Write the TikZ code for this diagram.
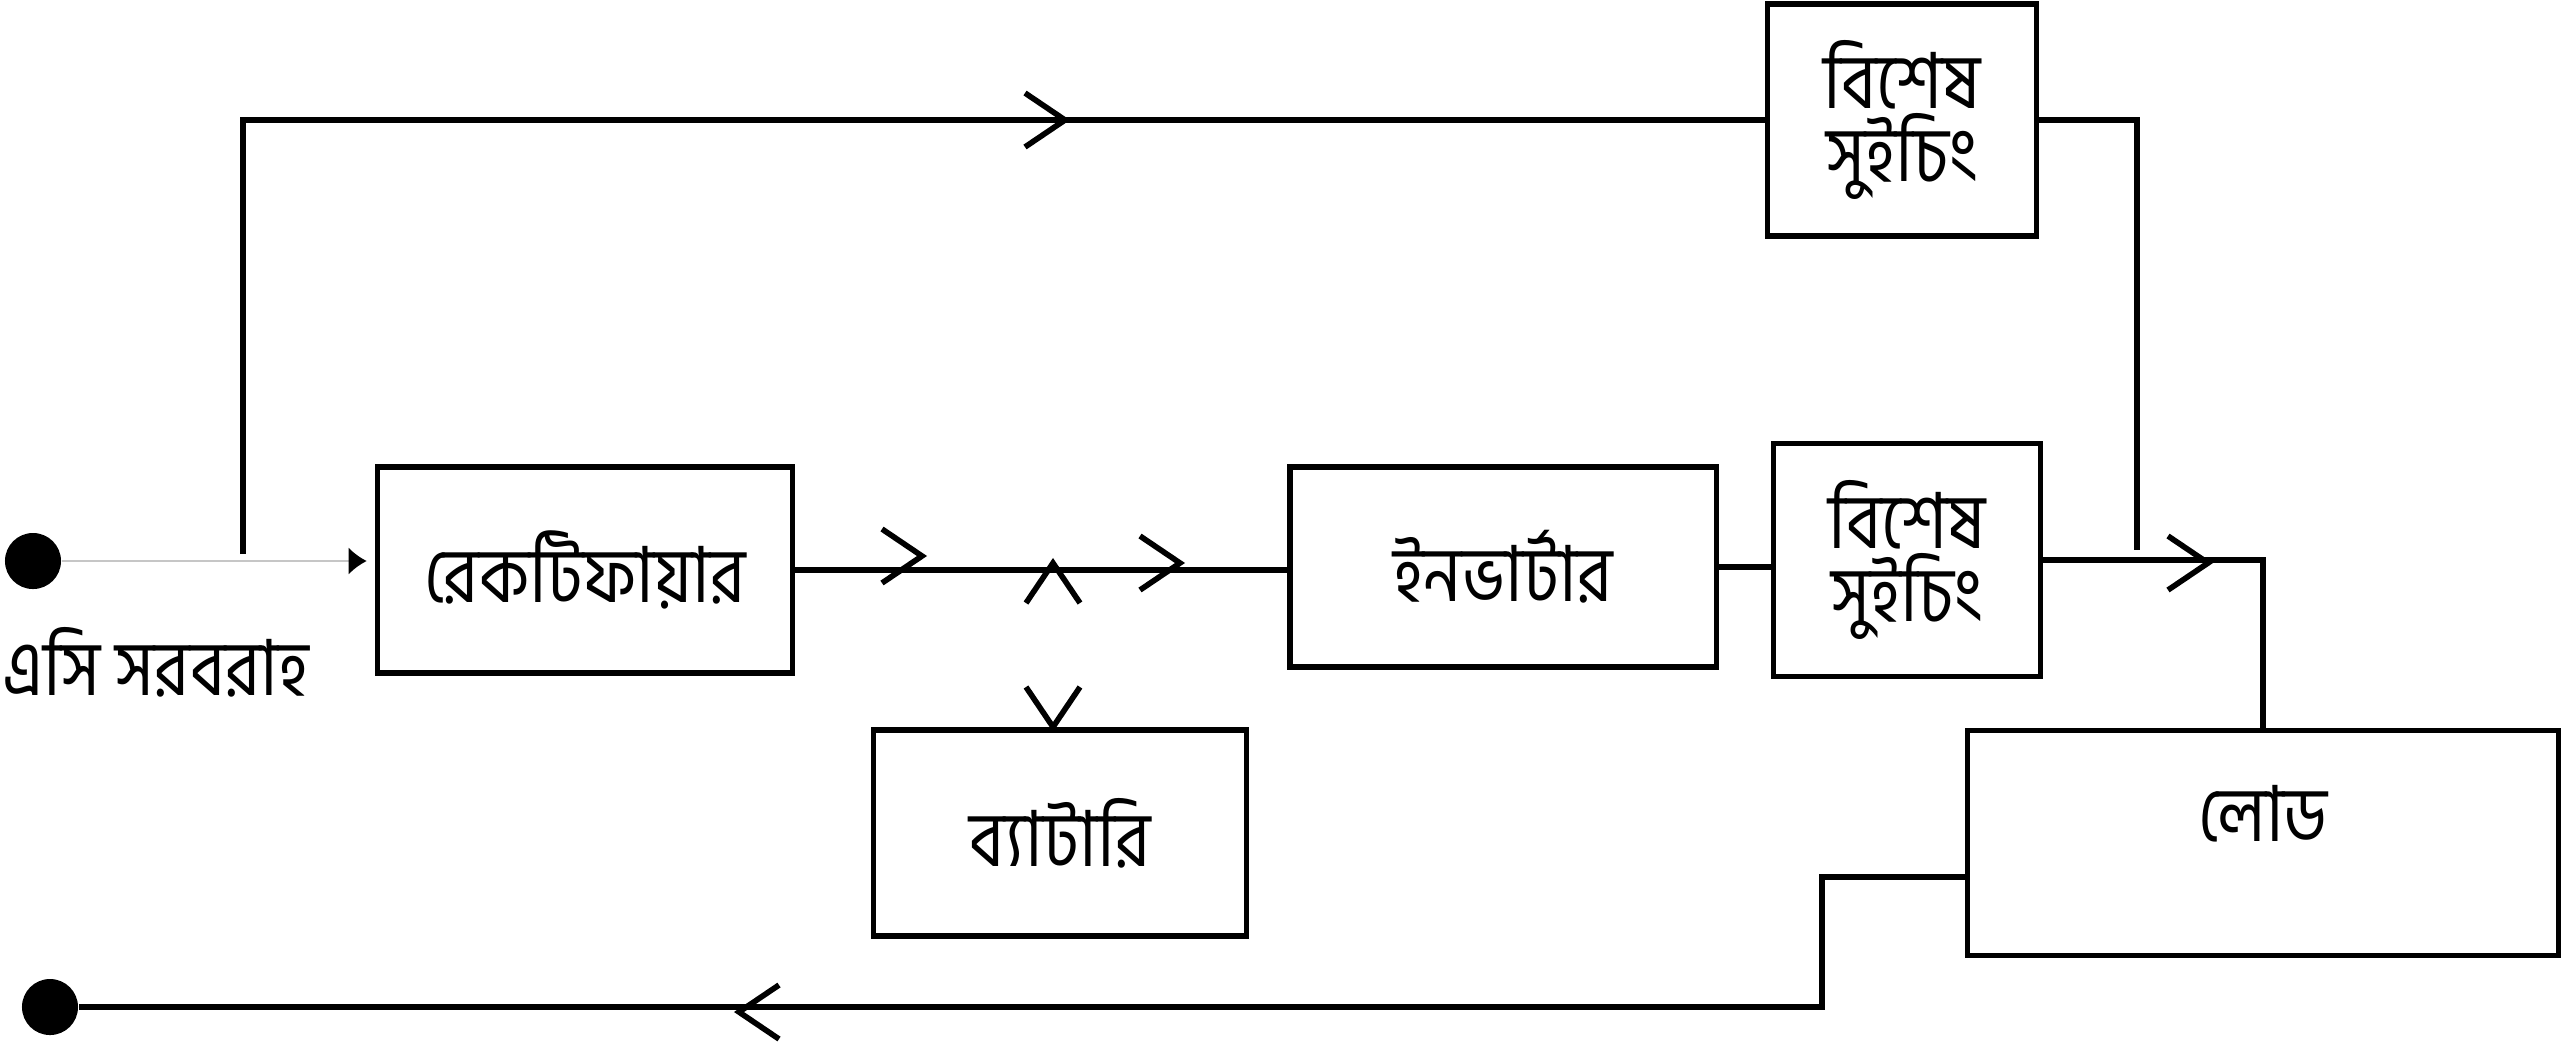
\documentclass[tikz,border=0pt]{standalone}
\usepackage{fontspec}
\newfontfamily\bnfont[Script=Bengali, FakeStretch=0.87]{Hind Siliguri}
\usetikzlibrary{arrows.meta}

\tikzset{
  block/.style    = {shape=rectangle, draw, line width=1.5pt, align=center,
                     inner sep=0pt, font=\bnfont\fontsize{22}{21}\selectfont},
  terminal/.style = {circle, fill, inner sep=0pt, minimum size=0.56cm},
  caption/.style  = {inner sep=0pt, font=\bnfont\fontsize{22}{21}\selectfont},
  wire/.style     = {line width=1.6pt},
  feed/.style     = {draw=gray!45, line width=0.6pt,
                     -{Latex[length=1.8mm,width=2.7mm,color=black]}},
  chev/.pic       = {\draw[line width=1.6pt] (-40,-27) -- (0,0) -- (-40,27);}
}

\begin{document}
\begin{tikzpicture}[x=0.01cm, y=-0.01cm]
\useasboundingbox (0,0) rectangle (2563,1041);
% blocks
\node[block, minimum width=4.15cm, minimum height=2.06cm] (rect) at (585,570) {রেকটিফায়ার};
\node[block, minimum width=4.26cm, minimum height=2cm]    (inv)  at (1503,567) {ইনভার্টার};
\node[block, minimum width=2.67cm, minimum height=2.33cm] (sw2)  at (1907,560) {বিশেষ\\সুইচিং};
\node[block, minimum width=2.69cm, minimum height=2.32cm] (sw1)  at (1902,120) {বিশেষ\\সুইচিং};
\node[block, minimum width=3.73cm, minimum height=2.06cm] (batt) at (1060,833) {ব্যাটারি};
\node[block, minimum width=5.91cm, minimum height=2.25cm, text depth=0.6cm] (load) at (2263,843) {লোড};
% terminals
\node[terminal] (ac)  at (33,561) {};
\node[terminal] (ret) at (50,1007) {};
\node[caption, anchor=west] (acl) at (2,662) {এসি সরবরাহ};
\coordinate (tap)  at (243,554);
\coordinate (join) at (2137,550);

% wires
\draw[feed, shorten >=0.08cm] (ac) -- (ac -| rect.west);
\draw[wire] (tap) |- (sw1.west);
\draw[wire] (sw1.east) -| (join);
\draw[wire] (rect.east) -- (rect.east -| inv.west);
\draw[wire] (inv.east) -- (inv.east -| sw2.west);
\draw[wire] (sw2.east) -| (load.north);
\draw[wire] ([yshift=-0.34cm]load.west) -- ++(-143,0) |- (ret);

% flow marks
\pic at (1065,120) {chev};
\pic at (922,556) {chev};
\pic at (1180,563) {chev};
\pic[rotate=90] at (1053,563) {chev};
\pic[rotate=-90] at (1053,727) {chev};
\pic at (2208,563) {chev};
\pic[rotate=180] at (739,1012) {chev};
\end{tikzpicture}
\end{document}
